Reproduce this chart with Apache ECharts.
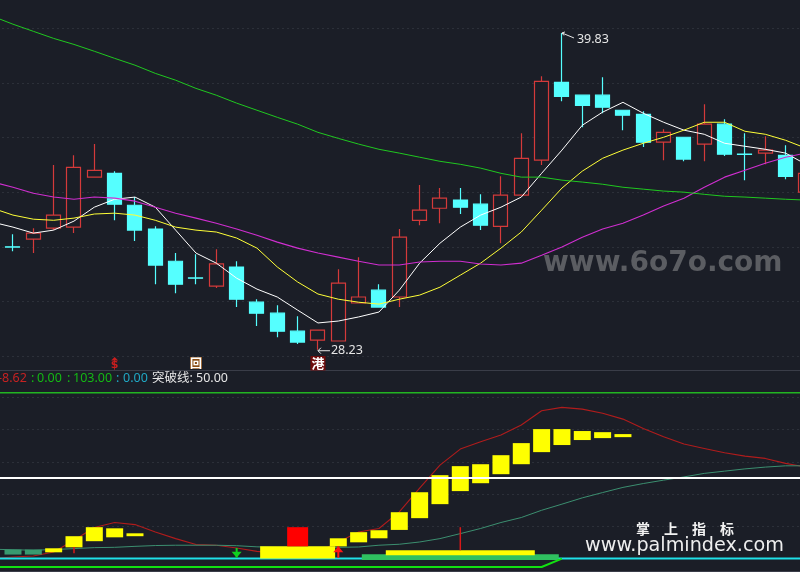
<!DOCTYPE html>
<html><head><meta charset="utf-8">
<style>html,body{margin:0;padding:0;background:#1b1e27;overflow:hidden}#c{width:800px;height:572px}</style>
<script src="https://cdn.jsdelivr.net/npm/echarts@6/dist/echarts.min.js"></script>
</head><body><div id="c"></div>
<script>
const categories = Array.from({length:41},(_, k)=>String(k));
const opens  = [null,32.00,32.28,32.68,32.72,34.55,34.69,33.52,32.65,31.47,30.86,30.56,31.26,29.97,29.57,28.91,28.58,28.55,29.94,30.41,30.16,32.97,33.41,33.71,33.56,32.75,33.89,35.17,38.02,37.55,37.55,37.00,36.85,35.83,36.01,35.76,36.49,35.39,35.43,35.35,34.00];
const closes = [null,31.99,32.50,33.16,34.91,34.80,33.56,32.61,31.33,30.63,30.85,31.37,30.08,29.57,28.91,28.51,28.95,30.67,30.16,29.79,32.35,33.34,33.78,33.45,32.79,33.89,35.24,38.06,37.51,37.18,37.11,36.82,35.83,36.19,35.21,36.49,35.39,35.38,35.54,34.58,34.69];
const lows   = [null,31.84,31.77,32.61,32.50,34.55,32.97,32.21,30.63,30.30,30.63,30.49,29.79,29.10,28.69,28.44,28.23,28.55,29.94,29.79,29.79,32.79,32.86,33.20,32.61,32.13,33.89,34.99,37.33,36.38,36.89,36.27,35.65,35.17,35.13,35.13,35.32,34.44,35.02,34.47,34.00];
const highs  = [null,32.46,32.68,34.99,35.35,35.76,34.77,33.82,32.75,31.77,31.73,31.91,31.47,30.08,29.86,29.46,28.95,31.18,31.62,30.63,32.65,34.26,34.15,34.15,33.92,34.58,36.16,38.24,39.83,37.55,38.21,37.00,36.96,36.30,36.01,37.22,36.67,36.16,36.05,35.72,34.80];
const maWhite = [32.90,32.72,32.50,32.61,32.94,33.45,33.74,33.82,33.45,32.61,31.77,31.40,30.85,30.45,30.16,29.68,29.21,29.28,29.43,29.61,30.41,31.40,32.13,32.72,33.16,33.45,33.82,34.69,35.54,36.45,36.93,37.29,36.89,36.56,36.27,36.12,35.79,35.68,35.57,35.43,35.02];
const maYellow = [33.41,33.16,33.01,32.97,33.05,33.20,33.23,33.16,32.97,32.72,32.61,32.54,32.32,31.95,31.26,30.71,30.27,30.08,29.97,29.90,30.08,30.23,30.52,30.96,31.40,31.95,32.54,33.34,34.15,34.77,35.24,35.54,35.79,36.01,36.27,36.56,36.56,36.23,36.12,35.90,35.61];
const maMagenta = [34.37,34.18,33.96,33.82,33.74,33.82,33.78,33.67,33.45,33.23,33.05,32.86,32.65,32.42,32.17,31.95,31.77,31.62,31.47,31.33,31.33,31.44,31.47,31.47,31.37,31.33,31.40,31.69,31.99,32.35,32.65,32.86,33.16,33.49,33.78,34.18,34.55,34.80,35.06,35.28,35.43];
const maGreen = [40.44,40.15,39.89,39.63,39.41,39.16,38.90,38.65,38.35,38.10,37.80,37.55,37.26,37.00,36.74,36.49,36.19,35.97,35.76,35.57,35.43,35.28,35.13,35.02,34.88,34.69,34.55,34.55,34.44,34.37,34.29,34.18,34.11,34.04,34.00,33.92,33.85,33.82,33.78,33.74,33.71];

const oscRed = [0,1,1.6,4.1,11.4,19.3,22.4,21.1,16.5,12.4,8.7,8.3,6.6,4.5,3.3,2.1,3.9,10.3,16.5,18.7,29,43.7,58,68,72.5,76.7,82.9,91.8,93.9,92.8,90.2,86.6,80.8,75.6,71.1,68.4,65.7,63.6,62.2,59.1,56.8];
const oscGreen = [5.8,5.5,5.2,5.6,6.2,6.8,7,7.6,8.1,8.3,8.3,8.3,8,7.3,7,7,7,7,7.2,8.3,8.9,10.3,12.4,15.5,18.7,22.4,25.5,30,33.8,37.7,41,44.2,46.6,48.7,50.7,52.9,54.3,55.7,56.8,57.6,57.6];
const floorLine = [-5.2,-5.2,-5.2,-5.2,-5.2,-5.2,-5.2,-5.2,-5.2,-5.2,-5.2,-5.2,-5.2,-5.2,-5.2,-5.2,-5.2,-5.2,-5.2,-5.2,-5.2,-5.2,-5.2,-5.2,-5.2,-5.2,-5.2,-5.2,0];
const zeroValue = 0, topValue = 103, breakValue = 50;

const floatIdx = [3,4,5,6,7,17,18,19,20,21,22,23,24,25,26,27,28,29,30,31];
const floatHi = [6.4,13.9,19.5,18.8,15.7,12.6,16.4,17.6,28.8,41.2,51.8,57.4,58.6,64.2,71.7,80.4,80.4,79.2,78.5,77.3];
const floatLo = [3.9,7.0,10.8,13.2,13.9,7.6,10.1,12.6,17.8,25.1,33.8,41.9,46.8,52.4,58.6,66.1,70.5,73.6,74.8,75.4];
const tealIdx = [1,2], tealHi = [5.6,5.6], tealLo = [2.5,2.5];
const redIdx = [15], redHi = [19.5], redLo = [7.6];
const wideYellowIdx = [15], wideYellowHi = [7.6], wideYellowLo = [0];
const bandYellowIdx = [23], bandYellowHi = [5.2], bandYellowLo = [2.1];
const bandGreenIdx = [23], bandGreenHi = [2.7], bandGreenLo = [-0.9];
const stickIdx = [4,23], stickHi = [7.2,19.5], stickLo = [3.3,5.2];
const upArrowIdx = [17], upArrowHi = [7.6], upArrowLo = [0.5];
const downArrowIdx = [12], downArrowHi = [6.6], downArrowLo = [0.5];

const priceNotes = [{i:28,v:39.83,t:'39.83'},{i:16,v:28.23,t:'28.23'}];
const markerIdx = [6,10,16], markerText = ['$','回','港'];
const legendTexts = ['-8.62',':','0.00',':','103.00',':','0.00','突破线:','50.00'];

const BG='#1b1e27', UP='#d43a3a', DOWN='#55ffff', GRID='#3f434d';
const sparse=(idx,vals)=>{const a=categories.map(()=>null);idx.forEach((i,k)=>a[i]=vals[k]);return a;};
const left=-17.5, width=833.6;

const xAxes=[], series=[];
function addX(g){xAxes.push({type:'category',gridIndex:g,data:categories,show:false,boundaryGap:true});return xAxes.length-1;}
const xMain=addX(0), xLow=addX(1);

function band(name,idx,hi,lo,color,w,z){
  const ax=addX(1);
  series.push({name:name+'-base',type:'bar',xAxisIndex:ax,yAxisIndex:1,stack:name,stackStrategy:'all',barWidth:w,silent:true,z:z,
    itemStyle:{color:'transparent'},data:sparse(idx,lo)});
  series.push({name:name,type:'bar',xAxisIndex:ax,yAxisIndex:1,stack:name,stackStrategy:'all',barWidth:w,silent:true,z:z,
    itemStyle:{color:color},data:sparse(idx,hi.map((h,k)=>h-lo[k]))});
}
function line(name,data,color,w,g,z){
  series.push({name,type:'line',xAxisIndex:g?xLow:xMain,yAxisIndex:g,data,showSymbol:false,silent:true,z:z||5,
    lineStyle:{color,width:w},itemStyle:{color}});
}
series.push({name:'K',type:'candlestick',xAxisIndex:xMain,yAxisIndex:0,barWidth:14.5,silent:true,z:3,
  itemStyle:{color:BG,color0:DOWN,borderColor:UP,borderColor0:DOWN,borderWidth:1.2},
  data:categories.map((c,k)=>opens[k]===null?'-':[opens[k],closes[k],lows[k],highs[k]])});
line('MA5',maWhite,'#ffffff',1,0,6);
line('MA10',maYellow,'#ffff38',1,0,6);
line('MA30',maMagenta,'#d02ed0',1.1,0,6);
line('MA60',maGreen,'#20c820',1,0,6);

line('osc-red',oscRed,'#b01c1c',1.1,1,2);
line('osc-green',oscGreen,'#3c8f70',1,1,2);
band('teal',tealIdx,tealHi,tealLo,'#389a70',17,3);
band('wideYellow',wideYellowIdx,wideYellowHi,wideYellowLo,'#ffff00',75,4);
band('red',redIdx,redHi,redLo,'#ff0000',21,4);
line('zero',categories.map(()=>zeroValue),'#1fe0e8',2,1,3);
band('bandGreen',bandGreenIdx,bandGreenHi,bandGreenLo,'#2fc060',197,4);
band('bandYellow',bandYellowIdx,bandYellowHi,bandYellowLo,'#ffff00',149,5);
band('float',floatIdx,floatHi,floatLo,'#ffff00',17,5);
line('break',categories.map(()=>breakValue),'#ffffff',2,1,7);
line('top',categories.map(()=>topValue),'#22b522',1.5,1,6);
line('floor',floorLine,'#12e012',2,1,6);

function stickSeries(name,idx,hi,lo,color,w,head){
  series.push({name,type:'custom',xAxisIndex:xLow,yAxisIndex:1,silent:true,z:6,
    data:idx.map((x,k)=>[x,hi[k],lo[k]]),
    renderItem:(p,api)=>{
      const a=api.coord([api.value(0),api.value(1)]),b=api.coord([api.value(0),api.value(2)]);
      const kids=[{type:'line',shape:{x1:a[0],y1:a[1],x2:b[0],y2:b[1]},style:{stroke:color,lineWidth:w}}];
      if(head==='up')kids.push({type:'polygon',shape:{points:[[a[0],a[1]],[a[0]-5,a[1]+6],[a[0]+5,a[1]+6]]},style:{fill:color}});
      if(head==='down')kids.push({type:'polygon',shape:{points:[[b[0],b[1]],[b[0]-5,b[1]-6],[b[0]+5,b[1]-6]]},style:{fill:color}});
      return {type:'group',children:kids};
    }});
}
stickSeries('stick',stickIdx,stickHi,stickLo,'#d81818',1.5);
stickSeries('up',upArrowIdx,upArrowHi,upArrowLo,'#ff1414',2,'up');
stickSeries('down',downArrowIdx,downArrowHi,downArrowLo,'#10d020',2,'down');

series.push({name:'notes',type:'custom',xAxisIndex:xMain,yAxisIndex:0,silent:true,z:8,
  data:priceNotes.map(n=>[n.i,n.v]),
  renderItem:(p,api)=>{
    const n=priceNotes[p.dataIndex],c=api.coord([n.i,n.v]),hi=n.v>30;
    const col='#e6e6e6',kids=[];
    if(hi){
      kids.push({type:'polyline',shape:{points:[[c[0],c[1]],[c[0]+12,c[1]+5]]},style:{stroke:col,lineWidth:1,fill:null}});
      kids.push({type:'polyline',shape:{points:[[c[0]+3,c[1]-1],[c[0],c[1]],[c[0]+2,c[1]+2.5]]},style:{stroke:col,lineWidth:1,fill:null}});
      kids.push({type:'text',style:{x:c[0]+15,y:c[1]+6,text:n.t,fill:col,font:'12.5px "Noto Sans"',textVerticalAlign:'middle'}});
    }else{
      kids.push({type:'polyline',shape:{points:[[c[0],c[1]+1],[c[0]+12,c[1]+1]]},style:{stroke:col,lineWidth:1,fill:null}});
      kids.push({type:'polyline',shape:{points:[[c[0]+3,c[1]-2],[c[0],c[1]+1],[c[0]+3,c[1]+4]]},style:{stroke:col,lineWidth:1,fill:null}});
      kids.push({type:'text',style:{x:c[0]+13,y:c[1]+1,text:n.t,fill:col,font:'12.5px "Noto Sans"',textVerticalAlign:'middle'}});
    }
    return {type:'group',children:kids};
  }});

series.push({name:'markers',type:'custom',xAxisIndex:xMain,yAxisIndex:0,silent:true,z:8,
  data:markerIdx.map(i=>[i,28]),
  renderItem:(p,api)=>{
    const c=api.coord([api.value(0),api.value(1)]),t=markerText[p.dataIndex],x=c[0],y=c[1]+7;
    if(t==='$')return {type:'group',children:[
      {type:'polygon',shape:{points:[[x,y-6],[x-3.5,y-2.5],[x+3.5,y-2.5]]},style:{fill:'#c81e1e'}},
      {type:'text',style:{x:x,y:y+2.5,text:t,fill:'#c81e1e',font:'bold 11px "DejaVu Sans"',textAlign:'center',textVerticalAlign:'middle'}}]};
    if(t==='回')return {type:'group',children:[
      {type:'rect',shape:{x:x-6,y:y-6,width:12,height:12},style:{fill:'#8a4c12'}},
      {type:'text',style:{x:x,y:y,text:t,fill:'#ffffff',font:'bold 12px "Noto Sans CJK SC"',textAlign:'center',textVerticalAlign:'middle'}}]};
    return {type:'group',children:[
      {type:'rect',shape:{x:x-7.5,y:y-7,width:15,height:14.5},style:{fill:'#6e0c0c'}},
      {type:'text',style:{x:x,y:y,text:t,fill:'#ffffff',font:'bold 13px "Noto Sans CJK SC"',textAlign:'center',textVerticalAlign:'middle'}}]};
  }});

const legendX=[-2,31,37,67,73,116,123,152,196];
const legendFill=['#c62222','#14b814','#14b814','#14b814','#14b814','#20a8c4','#20a8c4','#e6e6e6','#e6e6e6'];
const legendItems=legendTexts.map((t,k)=>({type:'text',z:20,x:legendX[k],y:378,style:{text:t,fill:legendFill[k],font:'12.5px "Noto Sans","Noto Sans CJK SC"',textVerticalAlign:'middle'}}));

const chart=echarts.init(document.getElementById('c'),null,{renderer:'canvas',width:800,height:572});
const gridAxis=(g,min,max)=>({type:'value',gridIndex:g,min,max,interval:g?20:2,scale:true,
  axisLine:{show:false},axisTick:{show:false},axisLabel:{show:false},
  splitLine:{show:true,lineStyle:{color:GRID,type:[1,4],width:1}}});
chart.setOption({
  animation:false,backgroundColor:BG,
  grid:[{left,width,top:-26.3,height:382.3,outerBoundsMode:'none'},{left,width,top:392.7,height:198.1,outerBoundsMode:'none'}],
  xAxis:xAxes,
  yAxis:[gridAxis(0,28,42),gridAxis(1,-20,103)],
  series,
  graphic:[
    {type:'line',z:1,shape:{x1:0,y1:370.5,x2:800,y2:370.5},style:{stroke:'#3a3d48',lineWidth:1}},
    {type:'line',z:1,shape:{x1:0,y1:571.5,x2:800,y2:571.5},style:{stroke:'#3a3d48',lineWidth:1}},
    ...legendItems,
    {type:'text',z:1,x:543,y:250,style:{text:'www.6o7o.com',fill:'#5b5d62',font:'bold 28px "DejaVu Sans"'}},
    {type:'text',z:20,x:636,y:522,style:{text:'掌　上　指　标',fill:'#f2f2f2',font:'bold 14px "Noto Sans CJK SC"'}},
    {type:'text',z:20,x:585,y:537,style:{text:'www.palmindex.com',fill:'#eeeeee',font:'19.2px "DejaVu Sans"'}}
  ]
});
</script></body></html>
